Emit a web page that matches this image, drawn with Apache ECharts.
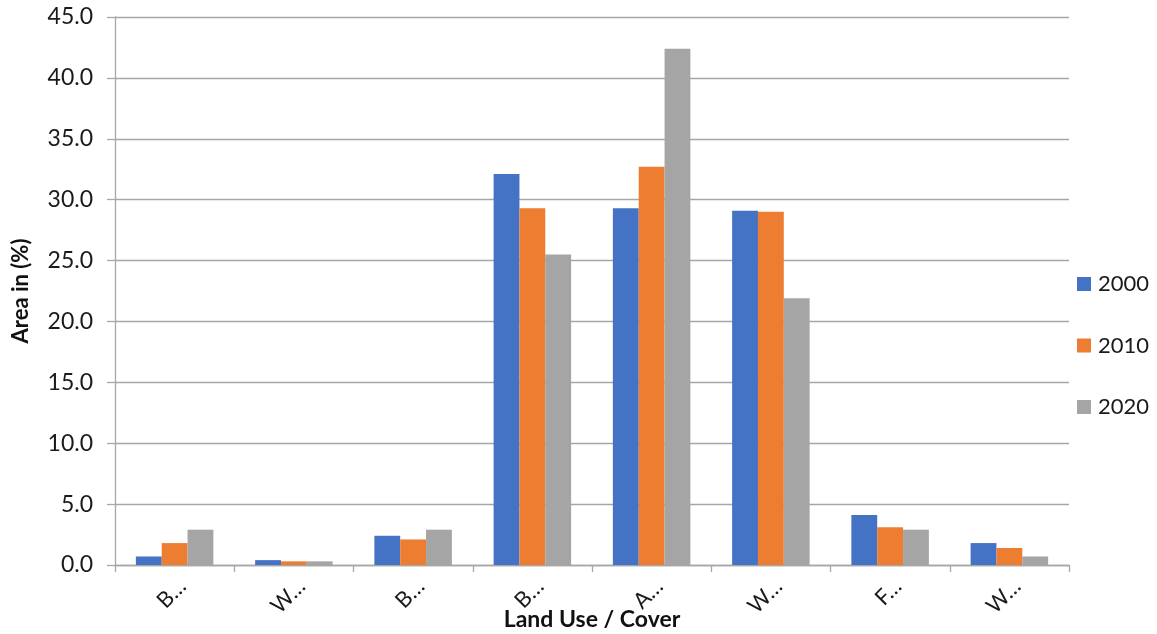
<!DOCTYPE html>
<html>
<head>
<meta charset="utf-8">
<script src="https://cdn.jsdelivr.net/npm/echarts@6/dist/echarts.min.js"></script>
<style>
  html, body { margin: 0; padding: 0; background: #fff; }
  #chart { width: 1157px; height: 634px; }
</style>
</head>
<body>
<div id="chart"></div>
<script>
// Land use / cover classes (labels as shortened on the axis)
const categories = ['B…', 'W…', 'B…', 'B…', 'A…', 'W…', 'F…', 'W…'];
const years = ['2000', '2010', '2020'];

// Share of total area (%) per class
const area2000 = [0.7, 0.4, 2.4, 32.1, 29.3, 29.1, 4.1, 1.8];
const area2010 = [1.8, 0.3, 2.1, 29.3, 32.7, 29.0, 3.1, 1.4];
const area2020 = [2.9, 0.3, 2.9, 25.5, 42.4, 21.9, 2.9, 0.7];

const yTicks = { min: 0, max: 45, interval: 5 };
const colors = ['#4472C4', '#ED7D31', '#A5A5A5'];

const FONT = 'Lato, "Open Sans", sans-serif';
const seriesData = [area2000, area2010, area2020];

const chart = echarts.init(document.getElementById('chart'), null, { renderer: 'canvas' });
chart.setOption({
  animation: false,
  backgroundColor: '#ffffff',
  color: colors,
  textStyle: { fontFamily: FONT },
  grid: { left: 115, right: 88, top: 17, bottom: 69, containLabel: false, outerBoundsMode: 'none' },
  legend: {
    orient: 'vertical',
    left: 1072,
    top: 268,
    itemWidth: 14,
    itemHeight: 14,
    itemGap: 39.5,
    icon: 'rect',
    textStyle: { fontSize: 22, color: '#1a1a1a', fontFamily: FONT, padding: [0, 0, 0, 2] },
    data: years
  },
  xAxis: {
    type: 'category',
    data: categories,
    name: 'Land Use / Cover',
    nameLocation: 'middle',
    nameGap: 43,
    nameMoveOverlap: false,
    nameTextStyle: { fontSize: 23, fontWeight: 'bold', color: '#111', fontFamily: FONT },
    axisLine: { show: true, lineStyle: { color: '#a6a6a6', width: 1.3 } },
    axisTick: { show: true, length: 7, lineStyle: { color: '#a6a6a6', width: 1.3 } },
    axisLabel: {
      rotate: 45, fontSize: 22, color: '#1a1a1a', margin: 10, fontFamily: FONT,
      verticalAlign: 'top'
    },
    splitLine: { show: false }
  },
  yAxis: {
    type: 'value',
    min: yTicks.min,
    max: yTicks.max,
    interval: yTicks.interval,
    name: 'Area in (%)',
    nameLocation: 'middle',
    nameGap: 83,
    nameTextStyle: { fontSize: 22, fontWeight: 'bold', color: '#111', fontFamily: FONT },
    axisLine: { show: true, lineStyle: { color: '#a6a6a6', width: 1.3 } },
    axisTick: { show: true, length: 8, lineStyle: { color: '#a6a6a6', width: 1.3 } },
    axisLabel: {
      fontSize: 23, color: '#1a1a1a', margin: 22, fontFamily: FONT,
      formatter: v => v.toFixed(1)
    },
    splitLine: { show: true, lineStyle: { color: '#a6a6a6', width: 1.3 } }
  },
  series: years.map((y, i) => ({
    name: y,
    type: 'bar',
    data: seriesData[i],
    barGap: '0%',
    barCategoryGap: '35%',
    itemStyle: { color: colors[i] }
  }))
});
</script>
</body>
</html>
